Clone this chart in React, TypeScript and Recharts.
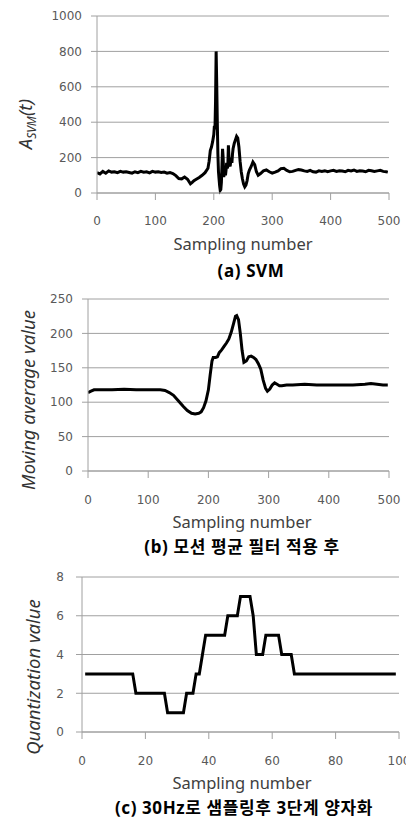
import React from 'react'
import { LineChart, Line, XAxis, YAxis, CartesianGrid } from 'recharts'

// (a) SVM magnitude at selected samples
const svmX = [0, 5, 10, 15, 20, 25, 30, 35, 40, 45, 50, 55, 60, 65, 70, 75, 80, 85, 90, 95, 100, 105, 110, 115, 120, 125, 130, 135, 140, 145, 150, 155, 160, 163, 166, 170, 175, 180, 185, 190, 192, 194, 196, 198, 200, 201, 202, 203, 204, 205, 206, 207, 208, 209, 210, 211, 212, 213, 214, 215, 216, 217, 218, 219, 220, 221, 222, 223, 224, 225, 226, 227, 228, 229, 230, 231, 232, 233, 235, 237, 239, 241, 243, 245, 247, 249, 251, 253, 255, 257, 259, 261, 264, 267, 270, 273, 276, 280, 285, 290, 295, 300, 305, 310, 315, 320, 325, 330, 335, 340, 345, 350, 355, 360, 365, 370, 375, 380, 385, 390, 395, 400, 405, 410, 415, 420, 425, 430, 435, 440, 445, 450, 455, 460, 465, 470, 475, 480, 485, 490, 495, 498]
const svmY = [115, 108, 122, 112, 125, 118, 120, 115, 122, 118, 120, 116, 112, 120, 115, 122, 117, 120, 114, 122, 118, 120, 116, 118, 112, 115, 110, 98, 82, 80, 90, 78, 52, 60, 70, 78, 88, 100, 115, 140, 180, 240, 260, 290, 330, 380, 360, 520, 800, 620, 400, 220, 120, 80, 40, 15, 20, 60, 160, 250, 200, 90, 110, 150, 100, 130, 170, 140, 150, 270, 200, 160, 150, 180, 200, 170, 220, 250, 280, 300, 320, 310, 260, 180, 120, 80, 50, 35, 45, 70, 110, 130, 150, 175, 160, 120, 100, 110, 125, 130, 120, 112, 118, 125, 138, 140, 128, 120, 122, 128, 132, 130, 125, 122, 128, 120, 118, 125, 122, 126, 120, 125, 128, 122, 126, 124, 120, 128, 125, 130, 122, 126, 124, 120, 128, 126, 122, 125, 128, 122, 120, 118]

// (b) moving average
const maX = [0, 5, 10, 20, 40, 60, 80, 100, 120, 128, 135, 142, 150, 158, 165, 172, 178, 184, 188, 192, 196, 200, 203, 206, 208, 212, 215, 218, 222, 226, 230, 234, 238, 242, 245, 247, 250, 253, 256, 259, 263, 267, 271, 275, 279, 283, 287, 291, 295, 298, 302, 306, 310, 314, 318, 322, 330, 340, 360, 380, 400, 420, 440, 460, 470, 480, 490, 498]
const maY = [114, 116, 118, 118, 118, 119, 118, 118, 118, 117, 114, 110, 102, 94, 88, 84, 83, 84, 86, 92, 102, 118, 140, 160, 165, 165, 166, 172, 176, 181, 186, 192, 202, 215, 225, 226, 220, 200, 175, 158, 160, 166, 167, 165, 162, 156, 148, 132, 120, 116, 119, 125, 128, 126, 124, 124, 125, 125, 126, 125, 125, 125, 125, 126, 127, 126, 125, 125]

// (c) quantization after resampling at 30 Hz (samples 1..99)
const qX = [1, 2, 3, 4, 5, 6, 7, 8, 9, 10, 11, 12, 13, 14, 15, 16, 17, 18, 19, 20, 21, 22, 23, 24, 25, 26, 27, 28, 29, 30, 31, 32, 33, 34, 35, 36, 37, 38, 39, 40, 41, 42, 43, 44, 45, 46, 47, 48, 49, 50, 51, 52, 53, 54, 55, 56, 57, 58, 59, 60, 61, 62, 63, 64, 65, 66, 67, 68, 69, 70, 71, 72, 73, 74, 75, 76, 77, 78, 79, 80, 81, 82, 83, 84, 85, 86, 87, 88, 89, 90, 91, 92, 93, 94, 95, 96, 97, 98, 99]
const qY = [3, 3, 3, 3, 3, 3, 3, 3, 3, 3, 3, 3, 3, 3, 3, 3, 2, 2, 2, 2, 2, 2, 2, 2, 2, 2, 1, 1, 1, 1, 1, 1, 2, 2, 2, 3, 3, 4, 5, 5, 5, 5, 5, 5, 5, 6, 6, 6, 6, 7, 7, 7, 7, 6, 4, 4, 4, 5, 5, 5, 5, 5, 4, 4, 4, 4, 3, 3, 3, 3, 3, 3, 3, 3, 3, 3, 3, 3, 3, 3, 3, 3, 3, 3, 3, 3, 3, 3, 3, 3, 3, 3, 3, 3, 3, 3, 3, 3, 3]

const ticksA = [0, 100, 200, 300, 400, 500]
const ticksAY = [0, 200, 400, 600, 800, 1000]
const ticksBY = [0, 50, 100, 150, 200, 250]
const ticksC = [0, 20, 40, 60, 80, 100]
const ticksCY = [0, 2, 4, 6, 8]

const dataA = svmX.map((x, i) => ({ x, y: svmY[i] }))
const dataB = maX.map((x, i) => ({ x, y: maY[i] }))
const dataC = qX.map((x, i) => ({ x, y: qY[i] }))

const font = '"Noto Sans", "Noto Sans CJK KR", sans-serif'
const gridColor = '#a0a0a0'
const tickStyle = { fontSize: 12, fill: '#595959', fontFamily: '"DejaVu Sans", sans-serif' }

// centred over a plot whose centre is at cx
const centered = (cx: number, top: number): React.CSSProperties => ({
  position: 'absolute',
  top,
  left: cx - 200,
  width: 400,
  textAlign: 'center',
  fontFamily: font,
  lineHeight: 1,
  whiteSpace: 'nowrap',
})

const rotated = (left: number, top: number): React.CSSProperties => ({
  position: 'absolute',
  left,
  top,
  transform: 'translate(-50%, -50%) rotate(-90deg)',
  fontFamily: font,
  fontStyle: 'italic',
  fontSize: 18.5,
  color: '#333',
  whiteSpace: 'nowrap',
  lineHeight: 1,
})

const xTitle: React.CSSProperties = { fontSize: 16.5, color: '#404040' }
const caption: React.CSSProperties = { fontSize: 17, fontWeight: 'bold', color: '#000', letterSpacing: 0.6 }

function Panel(props: {
  data: { x: number; y: number }[]
  top: number
  height: number
  marginTop: number
  marginRight: number
  yWidth: number
  xHeight: number
  xDomain: number[]
  xTicks: number[]
  yDomain: number[]
  yTicks: number[]
  tickMargin: number
  yTickMargin: number
}) {
  return (
    <LineChart
      width={406}
      height={props.height}
      data={props.data}
      margin={{ top: props.marginTop, right: props.marginRight, left: 0, bottom: 0 }}
      style={{ position: 'absolute', top: props.top, left: 0 }}
    >
      <CartesianGrid vertical={false} stroke={gridColor} strokeWidth={1} />
      <XAxis
        dataKey="x"
        type="number"
        domain={props.xDomain}
        ticks={props.xTicks}
        height={props.xHeight}
        tickSize={7}
        tickMargin={props.tickMargin}
        stroke={gridColor}
        tick={tickStyle}
        interval={0}
        allowDataOverflow
      />
      <YAxis
        type="number"
        domain={props.yDomain}
        ticks={props.yTicks}
        width={props.yWidth}
        tickSize={6}
        tickMargin={props.yTickMargin}
        stroke={gridColor}
        tick={tickStyle}
        interval={0}
      />
      <Line
        dataKey="y"
        type="linear"
        stroke="#000"
        strokeWidth={3}
        dot={false}
        isAnimationActive={false}
      />
    </LineChart>
  )
}

export default function App() {
  return (
    <div style={{ position: 'absolute', top: 0, left: 0, width: 406, height: 818, background: '#fff', overflow: 'hidden' }}>
      <Panel data={dataA} top={0} height={230} marginTop={16} marginRight={17} yWidth={97} xHeight={37}
        xDomain={[0, 500]} xTicks={ticksA} yDomain={[0, 1000]} yTicks={ticksAY} tickMargin={16} yTickMargin={9} />
      <div style={rotated(27, 124)}>
        A<sub style={{ fontSize: 12 }}>SVM</sub>(t)
      </div>
      <div style={{ ...centered(243, 236), ...xTitle }}>Sampling number</div>
      <div style={{ ...centered(251, 262), ...caption }}>(a) SVM</div>

      <Panel data={dataB} top={280} height={230} marginTop={19} marginRight={17} yWidth={88} xHeight={39}
        xDomain={[0, 500]} xTicks={ticksA} yDomain={[0, 250]} yTicks={ticksBY} tickMargin={17} yTickMargin={9} />
      <div style={rotated(28, 400)}>Moving average value</div>
      <div style={{ ...centered(242, 514), ...xTitle }}>Sampling number</div>
      <div style={{ ...centered(242, 538), ...caption }}>(b) 모션 평균 필터 적용 후</div>

      <Panel data={dataC} top={565} height={215} marginTop={12} marginRight={7} yWidth={82} xHeight={48}
        xDomain={[0, 100]} xTicks={ticksC} yDomain={[0, 8]} yTicks={ticksCY} tickMargin={17} yTickMargin={12} />
      <div style={rotated(33, 677)}>Quantization value</div>
      <div style={{ ...centered(242, 775), ...xTitle }}>Sampling number</div>
      <div style={{ ...centered(244, 799), ...caption }}>(c) 30Hz로 샘플링후 3단계 양자화</div>
    </div>
  )
}
